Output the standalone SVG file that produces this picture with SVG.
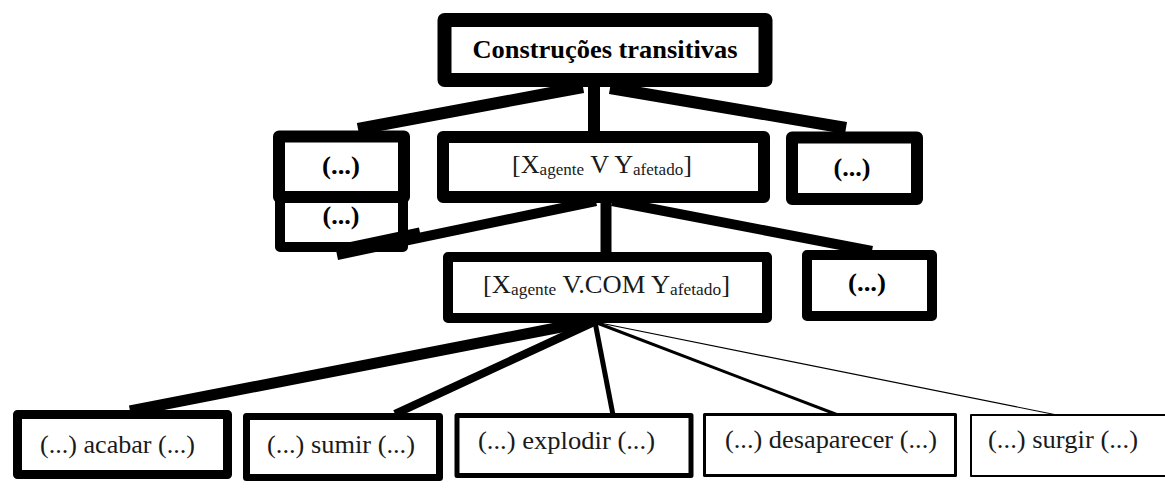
<svg xmlns="http://www.w3.org/2000/svg" width="1165" height="496" viewBox="0 0 1165 496">
  <style>
    .box { fill: #fff; stroke: #000; stroke-linejoin: round; }
    .conn { stroke: #000; stroke-linecap: butt; fill: none; }
    .t { font-size: 26px; fill: #1a1a1a; }
    .b { font-weight: bold; fill: #000; }
    .sub { font-size: 17px; }
  </style>
  <rect width="1165" height="496" fill="#fff"/>
  <g id="connectors">
    <line class="conn" x1="594" y1="86" x2="594" y2="133" stroke-width="12"/>
    <line class="conn" x1="583" y1="87" x2="358" y2="129" stroke-width="12"/>
    <line class="conn" x1="610" y1="88" x2="846" y2="128" stroke-width="12"/>
    <line class="conn" x1="606" y1="201" x2="606" y2="254" stroke-width="11"/>
    <line class="conn" x1="596" y1="201" x2="337" y2="255" stroke-width="10"/>
    <line class="conn" x1="612" y1="201" x2="872" y2="251" stroke-width="10"/>
    <line class="conn" x1="592" y1="321" x2="130" y2="411" stroke-width="11"/>
    <line class="conn" x1="594" y1="322" x2="395" y2="414" stroke-width="8"/>
    <line class="conn" x1="595" y1="322" x2="613" y2="415" stroke-width="5"/>
    <line class="conn" x1="597" y1="323" x2="838" y2="415" stroke-width="3"/>
    <line class="conn" x1="600" y1="323" x2="1057" y2="415" stroke-width="1.2" stroke="#444"/>
  </g>
  <g font-family="Liberation Serif, DejaVu Serif, serif">
  <g id="node-top">
    <rect class="box" x="444.5" y="20" width="321" height="60" stroke-width="14"/>
    <text class="t b" x="605" y="58" text-anchor="middle" textLength="265" lengthAdjust="spacingAndGlyphs">Construções transitivas</text>
  </g>
  <g id="node-left1">
    <rect class="box" x="279" y="136.5" width="125" height="60.5" stroke-width="12"/>
    <text class="t b" x="341" y="174" text-anchor="middle" textLength="38" lengthAdjust="spacingAndGlyphs">(...)</text>
  </g>
  <g id="node-left2">
    <rect class="box" x="280" y="198" width="123" height="49" stroke-width="10"/>
    <text class="t b" x="341" y="224" text-anchor="middle" textLength="37" lengthAdjust="spacingAndGlyphs">(...)</text>
  </g>
  <line class="conn" x1="420" y1="232.5" x2="337" y2="249.8" stroke-width="10"/>
  <g id="node-mid">
    <rect class="box" x="443" y="137" width="321" height="60" stroke-width="12"/>
    <text class="t" x="602" y="173" text-anchor="middle" textLength="180" lengthAdjust="spacingAndGlyphs">[X<tspan class="sub" dy="1.5">agente</tspan><tspan dy="-1.5"> V Y</tspan><tspan class="sub" dy="1.5">afetado</tspan><tspan dy="-1.5">]</tspan></text>
  </g>
  <g id="node-right1">
    <rect class="box" x="792" y="137.5" width="125" height="61.5" stroke-width="12"/>
    <text class="t b" x="852" y="176" text-anchor="middle" textLength="37" lengthAdjust="spacingAndGlyphs">(...)</text>
  </g>
  <g id="node-com">
    <rect class="box" x="448" y="257" width="319" height="61" stroke-width="10"/>
    <text class="t" x="606.5" y="293" text-anchor="middle" textLength="247" lengthAdjust="spacingAndGlyphs">[X<tspan class="sub" dy="1.5">agente</tspan><tspan dy="-1.5"> V.COM Y</tspan><tspan class="sub" dy="1.5">afetado</tspan><tspan dy="-1.5">]</tspan></text>
  </g>
  <g id="node-right2">
    <rect class="box" x="807" y="255" width="125" height="61" stroke-width="10"/>
    <text class="t b" x="867" y="291" text-anchor="middle" textLength="38" lengthAdjust="spacingAndGlyphs">(...)</text>
  </g>
  <g id="node-acabar">
    <rect class="box" x="17.5" y="414.5" width="210" height="60" stroke-width="9"/>
    <text class="t" x="40" y="453" textLength="155" lengthAdjust="spacingAndGlyphs">(...) acabar (...)</text>
  </g>
  <g id="node-sumir">
    <rect class="box" x="246.5" y="416.5" width="193" height="61" stroke-width="7"/>
    <text class="t" x="267" y="453" textLength="148" lengthAdjust="spacingAndGlyphs">(...) sumir (...)</text>
  </g>
  <g id="node-explodir">
    <rect class="box" x="457" y="415.5" width="234" height="60" stroke-width="5"/>
    <text class="t" x="478" y="449" textLength="177" lengthAdjust="spacingAndGlyphs">(...) explodir (...)</text>
  </g>
  <g id="node-desaparecer">
    <rect class="box" x="704.5" y="414.5" width="251" height="61" stroke-width="3"/>
    <text class="t" x="725" y="448" textLength="212" lengthAdjust="spacingAndGlyphs">(...) desaparecer (...)</text>
  </g>
  <g id="node-surgir">
    <rect class="box" x="971" y="415" width="220" height="61" stroke-width="2" stroke="#444"/>
    <text class="t" x="988" y="448" textLength="150" lengthAdjust="spacingAndGlyphs">(...) surgir (...)</text>
  </g>
  </g>
</svg>
